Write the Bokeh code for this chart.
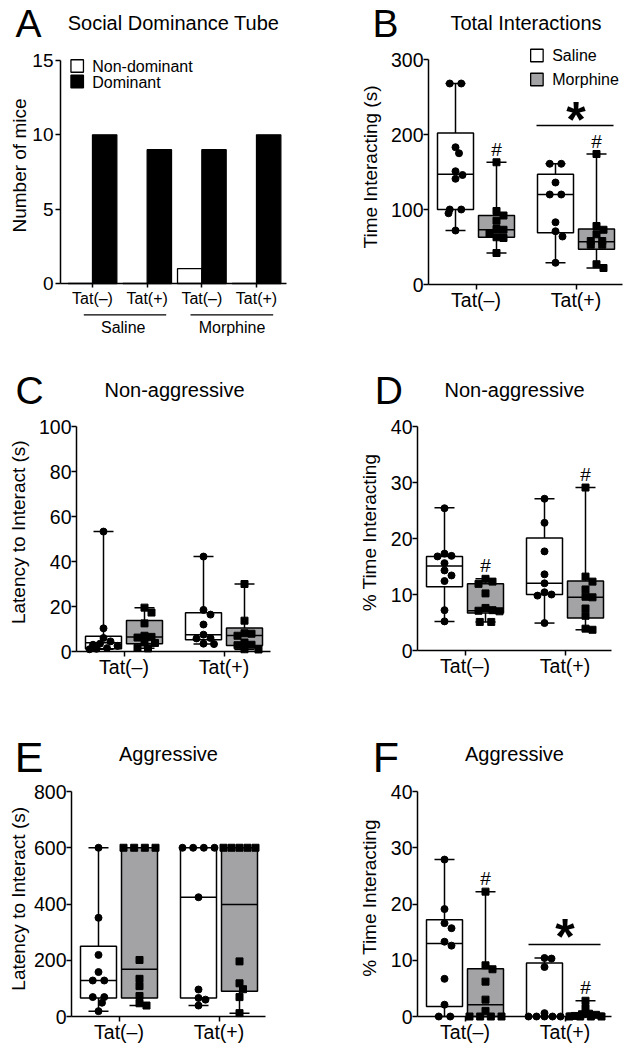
import math
from bokeh.plotting import figure
from bokeh.models import Range1d, FixedTicker
from bokeh.layouts import row, column
from bokeh.embed import file_html
from bokeh.resources import INLINE
from bokeh.core.properties import value

FONT = "Liberation Sans"
GRAY = "#a3a3a6"

# ---------------- data ----------------
# A: social dominance tube (number of mice)
a_tat_labels = ["Tat(–)", "Tat(+)", "Tat(–)", "Tat(+)"]
a_treatments = ["Saline", "Morphine"]
a_series = ["Non-dominant", "Dominant"]
a_nondominant = [0, 0, 1, 0]
a_dominant = [10, 9, 9, 10]
a_yticks = [0, 5, 10, 15]

tat_labels = ["Tat(–)", "Tat(+)"]
treatments = ["Saline", "Morphine"]

# B: total interactions, time interacting (s)
b_yticks = [0, 100, 200, 300]
b_sal_neg = [268, 268, 183, 175, 151, 146, 141, 100, 100, 95, 72]
b_mor_neg = [163, 98, 92, 85, 74, 73, 68, 63, 62, 42]
b_sal_pos = [161, 161, 136, 120, 120, 83, 71, 64, 29]
b_mor_pos = [174, 78, 73, 67, 58, 58, 53, 53, 27, 22]
# box summaries: min, Q1, median, Q3, max
b_sal_neg_box = [72, 100, 147, 202, 268]
b_mor_neg_box = [42, 63, 73, 92, 163]
b_sal_pos_box = [29, 69, 120, 147, 161]
b_mor_pos_box = [22, 47, 57, 74, 174]
b_sig_y = 212

# C: non-aggressive, latency to interact (s)
c_yticks = [0, 20, 40, 60, 80, 100]
c_sal_neg = [53.3, 10.3, 6.0, 4.5, 3.5, 3.0, 2.5, 1.5, 1.2, 1.0]
c_mor_neg = [19.5, 17.3, 12.5, 7.0, 6.5, 6.2, 4.0, 3.8, 1.6, 1.4]
c_sal_pos = [42.2, 18.5, 16.4, 12.0, 7.5, 6.0, 5.8, 3.5, 3.3]
c_mor_pos = [30.0, 13.7, 8.1, 7.9, 7.0, 4.0, 3.0, 2.8, 1.0, 0.9]
c_sal_neg_box = [1.0, 1.2, 3.9, 6.8, 53.3]
c_mor_neg_box = [1.4, 3.4, 6.4, 13.8, 19.5]
c_sal_pos_box = [3.3, 5.2, 7.5, 17.2, 42.2]
c_mor_pos_box = [0.9, 2.7, 7.1, 10.5, 30.0]

# D: non-aggressive, % time interacting
d_yticks = [0, 10, 20, 30, 40]
d_sal_neg = [25.4, 17.3, 16.9, 16.8, 15.6, 14.3, 13.4, 12.4, 7.2, 5.2]
d_mor_neg = [12.8, 12.3, 11.9, 10.2, 7.6, 7.2, 7.1, 7.0, 5.1, 5.1]
d_sal_pos = [27.1, 22.8, 17.7, 13.6, 12.0, 10.4, 10.0, 9.8, 4.9]
d_mor_pos = [29.1, 13.2, 12.3, 10.9, 9.6, 9.5, 7.5, 6.2, 3.9, 3.7]
d_sal_neg_box = [5.2, 11.4, 15.1, 16.8, 25.5]
d_mor_neg_box = [5.1, 6.7, 7.1, 11.9, 12.8]
d_sal_pos_box = [4.9, 10.0, 12.0, 20.1, 27.1]
d_mor_pos_box = [3.7, 5.8, 9.5, 12.4, 29.1]

# E: aggressive, latency to interact (s)
e_yticks = [0, 200, 400, 600, 800]
e_sal_neg = [600, 351, 219, 158, 128, 128, 69, 69, 49, 19]
e_mor_neg = [600, 600, 600, 600, 201, 134, 108, 73, 47, 39]
e_sal_pos = [600, 600, 600, 600, 424, 96, 66, 60, 39]
e_mor_pos = [600, 600, 600, 600, 600, 196, 118, 97, 69, 12]
e_sal_neg_box = [19, 66, 128, 250, 600]
e_mor_neg_box = [39, 66, 168, 600, 600]
e_sal_pos_box = [39, 66, 424, 600, 600]
e_mor_pos_box = [12, 90, 398, 600, 600]

# F: aggressive, % time interacting
f_yticks = [0, 10, 20, 30, 40]
f_sal_neg = [27.9, 19.1, 16.6, 15.7, 13.3, 12.6, 6.7, 2.1, 0, 0]
f_mor_neg = [22.2, 9.1, 8.4, 6.2, 3.0, 1.0, 0, 0, 0, 0]
f_sal_pos = [10.4, 10.3, 8.8, 0.6, 0, 0, 0, 0, 0]
f_mor_pos = [2.8, 1.5, 0.5, 0.4, 0.3, 0.1, 0, 0, 0, 0]
f_sal_neg_box = [0, 1.8, 13.0, 17.2, 27.9]
f_mor_neg_box = [0, 0, 2.1, 8.5, 22.2]
f_sal_pos_box = [0, 0, 0, 9.5, 10.4]
f_mor_pos_box = [0, 0, 0.1, 0.6, 2.8]
f_sig_y = 12.8


# ---------------- geometry helpers ----------------
class Geo:
    """Page-pixel layout of one panel (the plot frame fills the whole figure)."""
    def __init__(self, fig_x, fig_y, fig_w, fig_h, c0, unit, zero, k, ax_left, ax_right):
        self.fig_x, self.fig_y, self.fig_w, self.fig_h = fig_x, fig_y, fig_w, fig_h
        self.c0, self.unit, self.zero, self.k = c0, unit, zero, k
        self.ax_left, self.ax_right = ax_left, ax_right
        self.xr = (self.dx(fig_x), self.dx(fig_x + fig_w))
        self.yr = (self.dy(fig_y + fig_h), self.dy(fig_y))

    def dx(self, X):
        return (X - self.c0) / self.unit

    def dy(self, Y):
        return (self.zero - Y) / self.k


def make_fig(g, ymax, yticks, xlabels, ytick_size="19.5px", ystandoff=0,
             xtick_size="19.5px", xstandoff=-1, xtick_out=5):
    p = figure(width=g.fig_w, height=g.fig_h,
               frame_width=g.fig_w, frame_height=g.fig_h,
               min_border_left=0, min_border_right=0, min_border_top=0, min_border_bottom=0,
               x_range=Range1d(*g.xr), y_range=Range1d(*g.yr),
               toolbar_location=None, output_backend="svg", title=None)
    p.outline_line_color = None
    p.xgrid.visible = False
    p.ygrid.visible = False
    p.background_fill_color = "white"
    p.border_fill_color = "white"
    xa = p.xaxis[0]
    ya = p.yaxis[0]
    xticks = list(range(len(xlabels)))
    xa.fixed_location = 0
    xa.bounds = (g.dx(g.ax_left), g.dx(g.ax_right))
    xa.ticker = FixedTicker(ticks=xticks, minor_ticks=[])
    xa.major_label_overrides = {t: lab for t, lab in zip(xticks, xlabels)}
    xa.major_label_text_font_size = xtick_size
    xa.major_label_standoff = xstandoff
    xa.major_tick_out = xtick_out
    ya.fixed_location = g.dx(g.ax_left)
    ya.bounds = (0, ymax)
    ya.ticker = FixedTicker(ticks=yticks, minor_ticks=[])
    ya.major_label_text_font_size = ytick_size
    ya.major_label_standoff = ystandoff
    ya.major_tick_out = 5
    for ax in (xa, ya):
        ax.major_tick_in = 0
        ax.minor_tick_out = 0
        ax.minor_tick_in = 0
        ax.major_label_text_font = FONT
        ax.major_label_text_color = "black"
        ax.axis_line_width = 1.5
        ax.axis_line_color = "black"
        ax.major_tick_line_width = 1.5
        ax.major_tick_line_color = "black"
    return p


def txt(p, g, X, Y, text, size, align="center", angle=0.0, style="normal"):
    """Text whose (cap-height) centre sits at page pixel (X, Y)."""
    p.text(x=[g.dx(X)], y=[g.dy(Y)], text=[text], text_align=align,
           text_baseline="middle", angle=angle, text_font=value(FONT),
           text_font_size=value(size), text_font_style=style, text_color="black")


def swarm(vals, center, k, unit=100.0, d=6.5, step=3.5, max_px=16.0):
    """Simple beeswarm: horizontal offsets so markers do not pile up."""
    n = len(vals)
    order = sorted(range(n), key=lambda i: -vals[i])
    cands = [0.0]
    j = 1
    while j * step <= max_px + 1e-9:
        cands += [j * step, -j * step]
        j += 1
    off = [0.0] * n
    placed = []
    for i in order:
        y = vals[i] * k
        chosen, best_c, best_md = None, 0.0, -1.0
        for c in cands:
            md = min((math.hypot(c - px, y - py) for px, py in placed), default=1e9)
            if md >= d:
                chosen = c
                break
            if md > best_md:
                best_md, best_c = md, c
        if chosen is None:
            chosen = best_c
        placed.append((chosen, y))
        off[i] = chosen
    # spread groups of identical values evenly, centred
    for v in set(vals):
        idx = sorted(i for i in range(n) if vals[i] == v)
        m = len(idx)
        if m > 1:
            sp = min(11.5, 32.0 / (m - 1))
            for j2, i in enumerate(idx):
                off[i] = (j2 - (m - 1) / 2) * sp
    return [center + o / unit for o in off]


OFF = 0.205   # box centre offset from group centre
HALF = 0.18   # half box width
CAP = 0.10    # half whisker-cap width


def box_panel(g, ymax, yticks, series, boxes, letter, letter_pos, letter_size,
              title, title_pos, ylabel, ylabel_pos, hashes=(), sig=None):
    p = make_fig(g, ymax, yticks, tat_labels)
    xc = [0 - OFF, 0 + OFF, 1 - OFF, 1 + OFF]
    fills = ["white", GRAY, "white", GRAY]
    lo = [b[0] for b in boxes]
    q1 = [b[1] for b in boxes]
    md = [b[2] for b in boxes]
    q3 = [b[3] for b in boxes]
    hi = [b[4] for b in boxes]
    lw = 1.5
    p.segment(x0=xc, y0=q3, x1=xc, y1=hi, line_color="black", line_width=lw)
    p.segment(x0=xc, y0=lo, x1=xc, y1=q1, line_color="black", line_width=lw)
    p.segment(x0=[x - CAP for x in xc], y0=hi, x1=[x + CAP for x in xc], y1=hi,
              line_color="black", line_width=lw)
    p.segment(x0=[x - CAP for x in xc], y0=lo, x1=[x + CAP for x in xc], y1=lo,
              line_color="black", line_width=lw)
    p.vbar(x=xc, width=2 * HALF, bottom=q1, top=q3, fill_color=fills,
           line_color="black", line_width=lw)
    p.segment(x0=[x - HALF for x in xc], y0=md, x1=[x + HALF for x in xc], y1=md,
              line_color="black", line_width=lw)
    for i, vals in enumerate(series):
        xs = swarm(vals, xc[i], g.k)
        p.scatter(x=xs, y=vals, marker="circle" if i % 2 == 0 else "square",
                  size=7, fill_color="black", line_color="black")
    for i in hashes:
        p.text(x=[xc[i]], y=[hi[i] + 13 / g.k], text=["#"], text_align="center",
               text_baseline="middle", text_font=value(FONT),
               text_font_size=value("19px"), text_color="black")
    if sig is not None:
        gi, a0, a1, sy, star_dy = sig
        p.segment(x0=[gi + a0], y0=[sy], x1=[gi + a1], y1=[sy],
                  line_color="black", line_width=1.5)
        p.text(x=[gi], y=[sy + star_dy / g.k], text=["*"], text_align="center",
               text_baseline="middle", text_font=value(FONT), text_font_style="bold",
               text_font_size=value("50px"), text_color="black")
    txt(p, g, letter_pos[0], letter_pos[1], letter, letter_size)
    txt(p, g, title_pos[0], title_pos[1], title, "20px")
    txt(p, g, ylabel_pos[0], ylabel_pos[1], ylabel, "19px", angle=math.pi / 2)
    return p


# ---------------- panel A ----------------
gA = Geo(0, 0, 320, 340, 92, 54.67, 283, 223 / 15, 60, 286)
pA = make_fig(gA, 15, a_yticks, a_tat_labels, ytick_size="19px", ystandoff=2,
              xtick_size="16px", xstandoff=2, xtick_out=4)
BW = 0.445
ax_ = list(range(len(a_dominant)))
pA.vbar(x=[x - BW / 2 for x in ax_], bottom=0, top=a_nondominant, width=BW,
        fill_color="white", line_color="black", line_width=1.3)
pA.vbar(x=[x + BW / 2 for x in ax_], bottom=0, top=a_dominant, width=BW,
        fill_color="black", line_color="black", line_width=1.3)
# legend
pA.scatter(x=[gA.dx(76.7)] * 2, y=[gA.dy(65.5), gA.dy(81.0)], marker="square",
           size=12.5, fill_color=["white", "black"], line_color="black", line_width=1.3)
for lab, yc in zip(a_series, (65.5, 81.5)):
    txt(pA, gA, 91.7, yc, lab, "16px", align="left")
# treatment group lines and names
pA.segment(x0=[gA.dx(83.3), gA.dx(190.0)], x1=[gA.dx(165.7), gA.dx(272.7)],
           y0=[gA.dy(314.3)] * 2, y1=[gA.dy(314.3)] * 2, line_color="black", line_width=1.3)
txt(pA, gA, 122.7, 326.6, a_treatments[0], "16px")
txt(pA, gA, 231.5, 326.6, a_treatments[1], "16px")
txt(pA, gA, 28, 23, "A", "39px")
txt(pA, gA, 173, 22.7, "Social Dominance Tube", "20px")
txt(pA, gA, 18.9, 165, "Number of mice", "19px", angle=math.pi / 2)

# ---------------- panel B ----------------
gB = Geo(320, 0, 312, 340, 475.5, 100, 284, 225 / 300, 428, 622)
pB = box_panel(gB, 300, b_yticks, [b_sal_neg, b_mor_neg, b_sal_pos, b_mor_pos],
               [b_sal_neg_box, b_mor_neg_box, b_sal_pos_box, b_mor_pos_box],
               "B", (385, 22.7), "39px", "Total Interactions", (525.5, 22.7),
               "Time Interacting (s)", (370.4, 166.5),
               hashes=(1, 3), sig=(1, -0.395, 0.375, b_sig_y, 6.0))
pB.scatter(x=[gB.dx(536.4)] * 2, y=[gB.dy(55.0), gB.dy(79.0)], marker="square",
           size=12.5, fill_color=["white", GRAY], line_color="black", line_width=1.3)
for lab, yc in zip(treatments, (55.2, 79.0)):
    txt(pB, gB, 551.7, yc, lab, "16px", align="left")

# ---------------- panel C ----------------
gC = Geo(0, 340, 320, 350, 123.5, 100, 651, 225 / 100, 76, 270)
pC = box_panel(gC, 100, c_yticks, [c_sal_neg, c_mor_neg, c_sal_pos, c_mor_pos],
               [c_sal_neg_box, c_mor_neg_box, c_sal_pos_box, c_mor_pos_box],
               "C", (29, 390), "39px", "Non-aggressive", (174, 389),
               "Latency to Interact (s)", (17.6, 531.7))

# ---------------- panel D ----------------
gD = Geo(320, 340, 312, 350, 464.5, 100, 650, 224 / 40, 417, 611)
pD = box_panel(gD, 40, d_yticks, [d_sal_neg, d_mor_neg, d_sal_pos, d_mor_pos],
               [d_sal_neg_box, d_mor_neg_box, d_sal_pos_box, d_mor_pos_box],
               "D", (388.3, 390), "39px", "Non-aggressive", (514, 389),
               "% Time Interacting", (369.2, 532), hashes=(1, 3))

# ---------------- panel E ----------------
gE = Geo(0, 690, 320, 359, 118.5, 100, 1016, 225 / 800, 71, 265)
pE = box_panel(gE, 800, e_yticks, [e_sal_neg, e_mor_neg, e_sal_pos, e_mor_pos],
               [e_sal_neg_box, e_mor_neg_box, e_sal_pos_box, e_mor_pos_box],
               "E", (28.7, 756.7), "43px", "Aggressive", (168, 753.3),
               "Latency to Interact (s)", (17.6, 898.3))

# ---------------- panel F ----------------
gF = Geo(320, 690, 312, 359, 464.5, 100, 1016, 225 / 40, 417, 611)
pF = box_panel(gF, 40, f_yticks, [f_sal_neg, f_mor_neg, f_sal_pos, f_mor_pos],
               [f_sal_neg_box, f_mor_neg_box, f_sal_pos_box, f_mor_pos_box],
               "F", (385.5, 756.7), "43px", "Aggressive", (514, 753.3),
               "% Time Interacting", (369.2, 897.5),
               hashes=(1, 3), sig=(1, -0.365, 0.355, f_sig_y, 8.0))

layout = column(row(pA, pB), row(pC, pD), row(pE, pF))
open("out.html", "w").write(file_html(layout, INLINE))
